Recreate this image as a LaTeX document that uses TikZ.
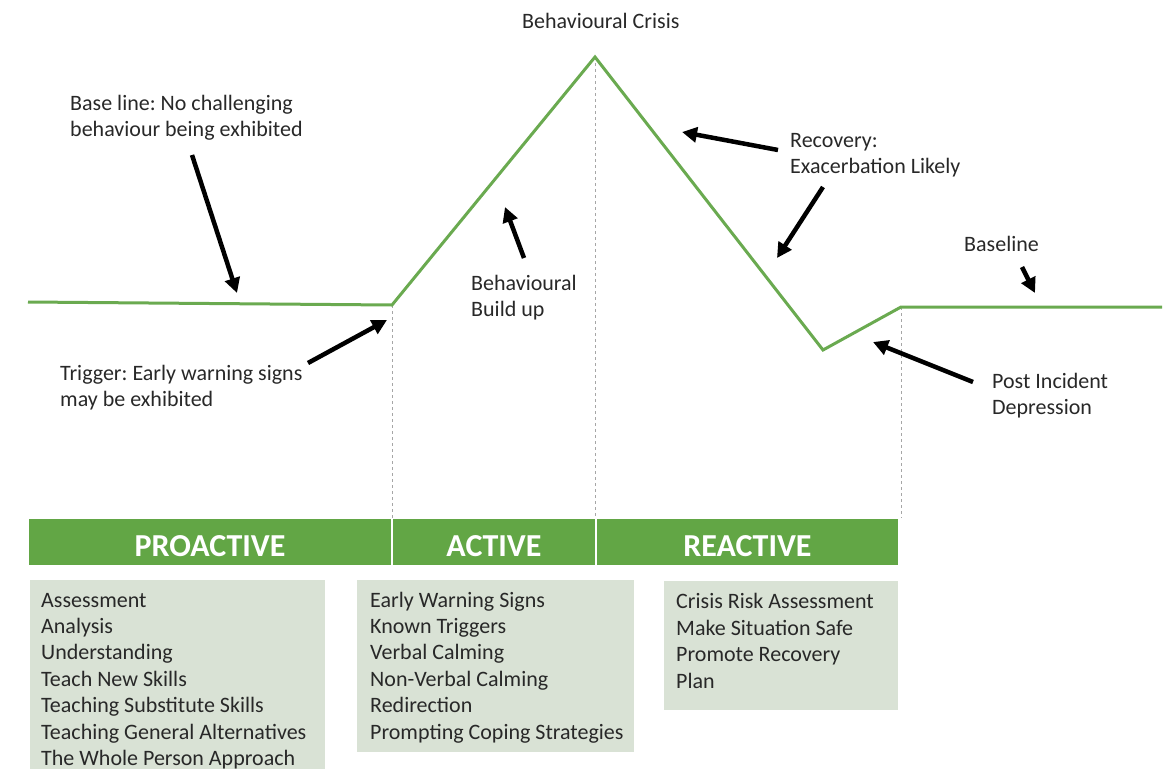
\documentclass[tikz,border=0pt]{standalone}
\usepackage{fontspec}
\setmainfont{Carlito}
\frenchspacing
\usetikzlibrary{arrows.meta, positioning}
\definecolor{linegreen}{RGB}{106,170,80}
\definecolor{bargreen}{RGB}{98,166,69}
\definecolor{boxgreen}{RGB}{217,226,213}
\definecolor{inkgray}{RGB}{40,40,40}

\begin{document}
\begin{tikzpicture}[
  x=1pt, y=-1pt,
  curve/.style={linegreen, line width=3pt, line join=miter},
  guide/.style={gray!70, line width=0.8pt, dash pattern=on 3pt off 3pt},
  arr/.style={-{Triangle[length=15pt, width=15pt]}, line width=4.5pt, black},
  lbl/.style={anchor=base west, inner sep=0pt, align=left, text=inkgray,
              font=\fontsize{22}{26.4}\selectfont},
  phase/.style={fill=bargreen, draw=white, line width=1.5pt, outer sep=0pt,
                minimum height=48pt, inner sep=0pt, text height=28pt, text depth=0pt,
                text=white, font=\fontsize{32}{36}\selectfont\bfseries},
  listbox/.style={fill=boxgreen, anchor=north west, inner sep=0pt, outer sep=0pt}
]
\useasboundingbox (0,0) rectangle (1176,769);

% Escalation curve
\coordinate (start)   at (28,302);
\coordinate (trigger) at (392,305);
\coordinate (crisis)  at (595,57);
\coordinate (low)     at (823,350);
\coordinate (settle)  at (901,307);
\coordinate (finish)  at (1162,307);

% Phase bar
\node[phase, minimum width=364pt, anchor=north west] (proactive) at (28,518) {PROACTIVE};
\node[phase, minimum width=204pt, right=0pt of proactive] (active) {ACTIVE};
\node[phase, minimum width=303pt, right=0pt of active] (reactive) {REACTIVE};

\draw[guide] (trigger) -- (trigger |- proactive.north);
\draw[guide] (crisis) -- (crisis |- active.north);
\draw[guide] (settle) -- (settle |- reactive.north);

\draw[curve] (start) -- (trigger) -- (crisis) -- (low) -- (settle) -- (finish);

% Stage labels (base = last line)
\node[lbl] (crisisLbl)   at (522,28)    {Behavioural Crisis};
\node[lbl] (baseLbl)     at (70,136.4)  {Base line: No challenging\\behaviour being exhibited};
\node[lbl] (triggerLbl)  at (60,406.4)  {Trigger: Early warning signs\\may be exhibited};
\node[lbl] (buildLbl)    at (471,316.4) {Behavioural\\Build up};
\node[lbl] (recoveryLbl) at (790,173.4) {Recovery:\\Exacerbation Likely};
\node[lbl] (baselineLbl) at (964,251)   {Baseline};
\node[lbl] (postLbl)     at (992,414.4) {Post Incident\\Depression};

% Pointer ends
\coordinate (t1) at (192,155);  \coordinate (h1) at (237,293);
\coordinate (t2) at (308,363);  \coordinate (h2) at (387,320);
\coordinate (t3) at (524,258);  \coordinate (h3) at (505,207);
\coordinate (t4) at (778,150);  \coordinate (h4) at (682,132);
\coordinate (t5) at (823,187);  \coordinate (h5) at (777,258);
\coordinate (t6) at (1022,267); \coordinate (h6) at (1035,293);
\coordinate (t7) at (973,382);  \coordinate (h7) at (873,342);

\draw[arr] (t1) -- (h1);
\draw[arr] (t2) -- (h2);
\draw[arr] (t3) -- (h3);
\draw[arr] (t4) -- (h4);
\draw[arr] (t5) -- (h5);
\draw[arr] (t6) -- (h6);
\draw[arr] (t7) -- (h7);

% Strategy lists
\node[listbox, minimum width=295pt, minimum height=189pt] (proBox) at (30,580) {};
\node[listbox, minimum width=277pt, minimum height=172pt] (actBox) at (357,580) {};
\node[listbox, minimum width=234pt, minimum height=129pt] (reaBox) at (664,581) {};

\node[lbl] (proList) at ([shift={(11,185.4)}]proBox.north west)
  {Assessment\\Analysis\\Understanding\\Teach New Skills\\Teaching Substitute Skills\\Teaching General Alternatives\\The Whole Person Approach};
\node[lbl] (actList) at ([shift={(13,159)}]actBox.north west)
  {Early Warning Signs\\Known Triggers\\Verbal Calming\\Non-Verbal Calming\\Redirection\\Prompting Coping Strategies};
\node[lbl] (reaList) at ([shift={(12,107)}]reaBox.north west)
  {Crisis Risk Assessment\\Make Situation Safe\\Promote Recovery\\Plan};
\end{tikzpicture}
\end{document}
